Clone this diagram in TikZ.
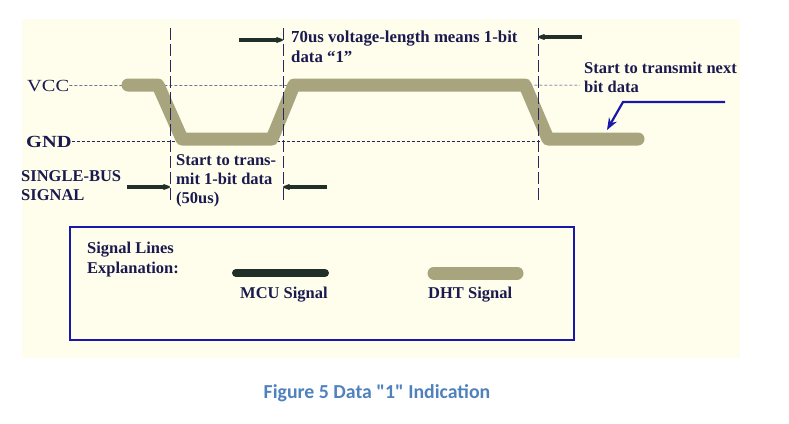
\documentclass[tikz,border=0pt]{standalone}
\usepackage{fontspec}
\setmainfont{Liberation Serif}
\newfontfamily\widefont{Liberation Serif}[FakeStretch=1.2]
\newfontfamily\capfont{Carlito}
\usetikzlibrary{arrows.meta}
\definecolor{cream}{RGB}{255,254,237}
\definecolor{dhtcol}{RGB}{168,164,126}
\definecolor{mcucol}{RGB}{32,48,40}
\definecolor{txtnavy}{RGB}{26,26,78}
\definecolor{guidecol}{RGB}{40,40,96}
\definecolor{hintblue}{RGB}{24,24,170}
\definecolor{capblue}{RGB}{79,129,189}

\begin{document}
\begin{tikzpicture}[x=1pt,y=-1pt,
		lbl/.style={text=txtnavy,font=\fontsize{16.5}{19}\selectfont\bfseries,inner sep=0pt,anchor=base west,align=left},
		lvl/.style={text=txtnavy,font=\widefont\fontsize{17}{20}\selectfont,inner sep=0pt,anchor=base west},
		dimarrow/.style={draw=mcucol,line width=3.2pt,-{Stealth[length=11pt,width=8pt,round]}},
		guide/.style={draw=guidecol,line width=0.9pt,dash pattern=on 12pt off 4pt},
		levelline/.style={draw=guidecol,line width=0.5pt,dash pattern=on 3pt off 2pt},
		dht/.style={draw=dhtcol,line width=13pt,line cap=round,line join=round},
	]
		\useasboundingbox (0,0) rectangle (789,423);
		\fill[cream] (22,19) rectangle (740,358);

		\node[lvl] (VCC) at (27,91) {VCC};
		\node[lvl,font=\widefont\fontsize{17}{20}\selectfont\bfseries] (GND) at (26,147) {GND};
		\draw[levelline] (VCC.east) -- (580,85);
		\draw[levelline] (GND.east |- 0,141) -- (580,141);

		\draw[dht] (128,85) -- (158,85) -- (182,139) -- (272,139) -- (294,85) -- (525,85) -- (548,139) -- (638,139);

		\coordinate (G1t) at (170,28);
		\coordinate (G1b) at (170,200);
		\coordinate (G2t) at (283,28);
		\coordinate (G2b) at (283,200);
		\coordinate (G3t) at (538,28);
		\coordinate (G3b) at (538,200);
		\draw[guide] (G1t) -- (G1b);
		\draw[guide] (G2t) -- (G2b);
		\draw[guide] (G3t) -- (G3b);

		\coordinate (A1) at (239,40);
		\coordinate (A2) at (582,37);
		\coordinate (A3) at (127,187);
		\coordinate (A4) at (327,187);
		\draw[dimarrow] (A1) -- (A1 -| G2t);
		\draw[dimarrow] (A2) -- (A2 -| G3t);
		\draw[dimarrow] (A3) -- (A3 -| G1t);
		\draw[dimarrow] (A4) -- (A4 -| G2t);

		\node[lbl,font=\fontsize{16.8}{19.5}\selectfont\bfseries] (T1) at (291,62) {70us voltage-length means 1-bit\\data “1”};
		\node[lbl] (T2) at (176,203) {Start to trans-\\mit 1-bit data\\(50us)};
		\node[lbl] (T3) at (21,200) {SINGLE-BUS\\SIGNAL};
		\node[lbl] (T4) at (584,92) {Start to transmit next\\bit data};

		\coordinate (B1) at (725,102);
		\coordinate (B2) at (623,102);
		\coordinate (B3) at (607,130);
		\draw[hintblue,line width=2.2pt,-{Stealth[length=12pt,width=9pt]}] (B1) -- (B2) -- (B3);

		\draw[hintblue,line width=2.5pt] (70,227) rectangle (574,340);
		\node[lbl,font=\fontsize{16.5}{20}\selectfont\bfseries] (L1) at (87,273) {Signal Lines\\Explanation:};
		\coordinate (M1) at (236,273);
		\coordinate (M2) at (325,273);
		\coordinate (D1) at (434,273);
		\coordinate (D2) at (517,273);
		\draw[mcucol,line width=8pt,line cap=round] (M1) -- (M2);
		\draw[dht] (D1) -- (D2);
		\node[lbl] (MCU) at (240,298) {MCU Signal};
		\node[lbl] (DHT) at (428,298) {DHT Signal};

		\node[text=capblue,font=\capfont\fontsize{19.8}{22}\selectfont\bfseries,inner sep=0pt,anchor=base] (CAP) at (377,398) {Figure 5 Data "1" Indication};
		\end{tikzpicture}
\end{document}
